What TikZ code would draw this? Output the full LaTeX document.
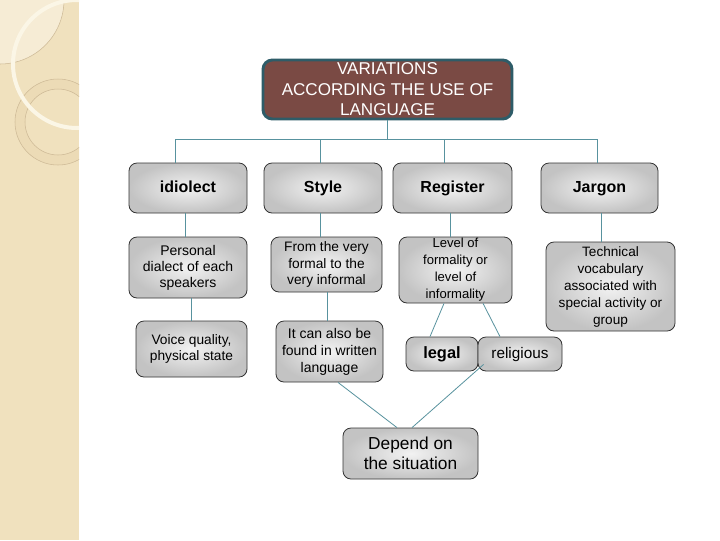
\documentclass[tikz,border=0pt]{standalone}
\usepackage{fontspec}
\setmainfont{Liberation Sans}
\usetikzlibrary{calc}
\definecolor{stripc}{RGB}{240,225,190}
\definecolor{stripl}{RGB}{246,236,213}
\definecolor{ringfill}{RGB}{236,219,182}
\definecolor{ringc}{RGB}{205,185,150}
\definecolor{arcc}{RGB}{251,246,230}
\definecolor{topfill}{RGB}{122,74,68}
\definecolor{topedge}{RGB}{46,92,104}
\definecolor{connc}{RGB}{88,146,158}
\begin{document}
\begin{tikzpicture}[x=0.75pt,y=-0.75pt,
  shell/.style={draw=black!80, line width=0.6pt, rounded corners=6pt,
    inner color=gray!10, outer color=gray!47, inner sep=0pt},
  box/.style={shell, align=center},
  topbox/.style={draw=topedge, line width=2.2pt, fill=topfill, rounded corners=7pt,
    text=white, align=center, inner sep=0pt,
    minimum width=186.75pt, minimum height=44.25pt,
    font=\fontsize{12.8}{15.4}\selectfont},
  headbox/.style={shell, minimum height=37.5pt, text height=9pt, text depth=2.6pt,
    font=\bfseries\fontsize{12}{14}\selectfont},
  conn/.style={draw=connc, line width=0.6pt}]
\useasboundingbox (0,0) rectangle (720,540);
\fill[white] (0,0) rectangle (720,540);
% left decorative strip
\fill[stripc] (0,0) rectangle (79,540);
\begin{scope}
  \clip (0,0) rectangle (79,540);
  \fill[stripl] (0,0) circle[radius=64];
  \draw[ringc, line width=0.4pt] (0,0) circle[radius=64];
  \fill[ringfill, even odd rule] (58,122) circle[radius=43] (58,122) circle[radius=33];
  \draw[ringc, line width=0.4pt] (58,122) circle[radius=43];
  \draw[ringc, line width=0.4pt] (58,122) circle[radius=33];
  \draw[arcc, line width=3pt] (77,64) circle[radius=64];
\end{scope}

% nodes
\node[topbox] (top) at (387.5,89.5) {VARIATIONS\\ACCORDING THE USE OF\\LANGUAGE};

\node[headbox, minimum width=88.5pt] (idiolect) at (188,188) {idiolect};
\node[headbox, minimum width=88.5pt] (style) at (323,188) {Style};
\node[headbox, minimum width=89.25pt] (register) at (452.5,188) {Register};
\node[headbox, minimum width=87.75pt] (jargon) at (599.5,188) {Jargon};

\node[box, minimum width=88.5pt, minimum height=45.75pt, font=\fontsize{10.5}{12}\selectfont]
  (personal) at (188,267.5) {Personal\\dialect of each\\speakers};
\node[box, minimum width=83.25pt, minimum height=41.25pt, font=\fontsize{10.3}{12.2}\selectfont]
  (fromvery) at (326.5,264.5) {From the very\\formal to the\\very informal};
\node[box, minimum width=84.75pt, minimum height=49.5pt, font=\fontsize{9.8}{12.75}\selectfont]
  (level) at (455.5,270) {Level of\\formality or\\level of\\informality};
\node[box, minimum width=96.75pt, minimum height=66.75pt, font=\fontsize{10.2}{12.75}\selectfont]
  (technical) at (610.5,286.5) {Technical\\vocabulary\\associated with\\special activity or\\group};

\node[box, minimum width=83.25pt, minimum height=42pt, font=\fontsize{10.3}{11.5}\selectfont]
  (voice) at (191.5,349) {Voice quality,\\physical state};
\node[box, minimum width=80.25pt, minimum height=45.75pt, font=\fontsize{10.5}{12.75}\selectfont]
  (written) at (329.5,351.5) {It can also be\\found in written\\language};
\node[shell, minimum width=54pt, minimum height=25.5pt, text height=9pt, text depth=2.6pt,
  font=\bfseries\fontsize{12.3}{14}\selectfont]
  (legal) at (442,354) {legal};
\node[shell, minimum width=63pt, minimum height=25.5pt, text height=8.6pt, text depth=2.5pt,
  font=\fontsize{11.5}{14}\selectfont]
  (religious) at (520,354) {religious};
\node[box, minimum width=101.25pt, minimum height=38.25pt, font=\fontsize{13}{15}\selectfont]
  (depend) at (410.5,453.5) {Depend on\\the situation};

% connectors
\coordinate (bL) at (175,139);
\coordinate (bR) at (597,139);
\coordinate (bS) at (320,139);
\coordinate (bG) at (444,139);
\draw[conn] (bL) -- (bR);
\draw[conn] (top.south) -- (top.south |- bL);
\draw[conn] (bL) -- (bL |- idiolect.north);
\draw[conn] (bS) -- (bS |- style.north);
\draw[conn] (bG) -- (bG |- register.north);
\draw[conn] (bR) -- (bR |- jargon.north);

\draw[conn] ($(idiolect.south)+(-3,0)$) -- ($(personal.north)+(-3,0)$);
\draw[conn] ($(personal.south)+(3,0)$) -- ($(voice.north)+(-0.5,0)$);
\draw[conn] ($(style.south)+(-3,0)$) -- ($(fromvery.north)+(-6.5,0)$);
\draw[conn] ($(fromvery.south)+(0.5,0)$) -- ($(written.north)+(-2.5,0)$);
\draw[conn] ($(register.south)+(-2.5,0)$) -- ($(level.north)+(-5.5,0)$);
\draw[conn] ($(jargon.south)+(1.5,0)$) -- ($(technical.north)+(-9.5,0)$);
\draw[conn] ($(level.south)+(-11.5,0)$) -- ($(legal.north)+(-12,0)$);
\draw[conn] ($(level.south)+(27.5,0)$) -- ($(religious.north)+(-20,0)$);
\draw[conn] ($(written.south)+(8.5,0)$) -- ($(depend.north)+(-13.5,0)$);
\draw[conn] ($(religious.south west)+(6,-7)$) -- ($(depend.north)+(1.5,0)$);
\end{tikzpicture}
\end{document}
